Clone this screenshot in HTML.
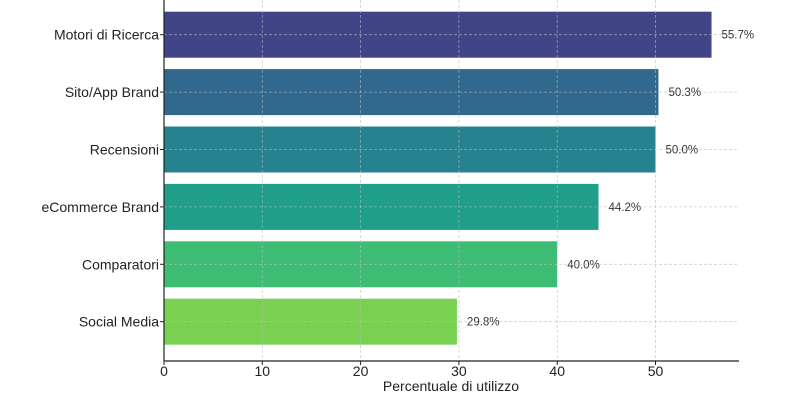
<!DOCTYPE html>
<html><head><meta charset="utf-8"><style>
body{margin:0;background:#fff}
svg{display:block;font-family:"Liberation Sans","DejaVu Sans",sans-serif}
</style></head><body>
<svg id="chart" width="800" height="400"></svg>
<script>
const categories=["Motori di Ricerca","Sito/App Brand","Recensioni","eCommerce Brand","Comparatori","Social Media"];
const values=[55.7,50.3,50.0,44.2,40.0,29.8];
const colors=["#414487","#31688e","#26828e","#1f9e89","#3dbc74","#7ad151"];
const xTicks=[0,10,20,30,40,50];
const NS="http://www.w3.org/2000/svg";
const svg=document.getElementById('chart');
const x0=164,pxPerUnit=9.83,top0=6,rowH=57.4,barH=46,bottom=361,xEnd=739;
const xs=v=>x0+v*pxPerUnit;
const yc=i=>top0+rowH*i+rowH/2;
function el(t,a,txt){const e=document.createElementNS(NS,t);for(const k in a)e.setAttribute(k,a[k]);if(txt!=null)e.textContent=txt;svg.appendChild(e);return e;}
categories.forEach((c,i)=>{
  const r=el('rect',{x:x0,y:yc(i)-barH/2,width:xs(values[i])-x0,height:barH,fill:colors[i]});
  
  
  const l=el('text',{x:159,y:yc(i)+5,'text-anchor':'end','font-size':14,fill:'#222'},c);
  
  
  const v=el('text',{x:xs(values[i])+10,y:yc(i)+4,'font-size':11.5,fill:'#333'},values[i].toFixed(1)+'%');
  
  
  const g=el('line',{x1:x0,x2:xEnd,y1:yc(i),y2:yc(i),stroke:'#bbb','stroke-dasharray':'3,2','stroke-width':0.8,opacity:0.7});
  
  
  el('line',{x1:x0-4,x2:x0,y1:yc(i),y2:yc(i),stroke:'#222'});
});
xTicks.forEach(t=>{
  const g=el('line',{x1:xs(t),x2:xs(t),y1:0,y2:bottom,stroke:'#bbb','stroke-dasharray':'3,2','stroke-width':0.8,opacity:0.7});
  
  
  el('line',{x1:xs(t),x2:xs(t),y1:bottom,y2:bottom+4,stroke:'#222'});
  const tl=el('text',{x:xs(t),y:bottom+15,'text-anchor':'middle','font-size':14,fill:'#222'},t);
  
  
});
const ya=el('line',{x1:x0,x2:x0,y1:0,y2:bottom,stroke:'#222','stroke-width':1.2});


const xa=el('line',{x1:x0,x2:xEnd,y1:bottom,y2:bottom,stroke:'#222','stroke-width':1.2});


const xt=el('text',{x:451,y:391,'text-anchor':'middle','font-size':14,fill:'#222'},'Percentuale di utilizzo');


</script>
</body></html>
